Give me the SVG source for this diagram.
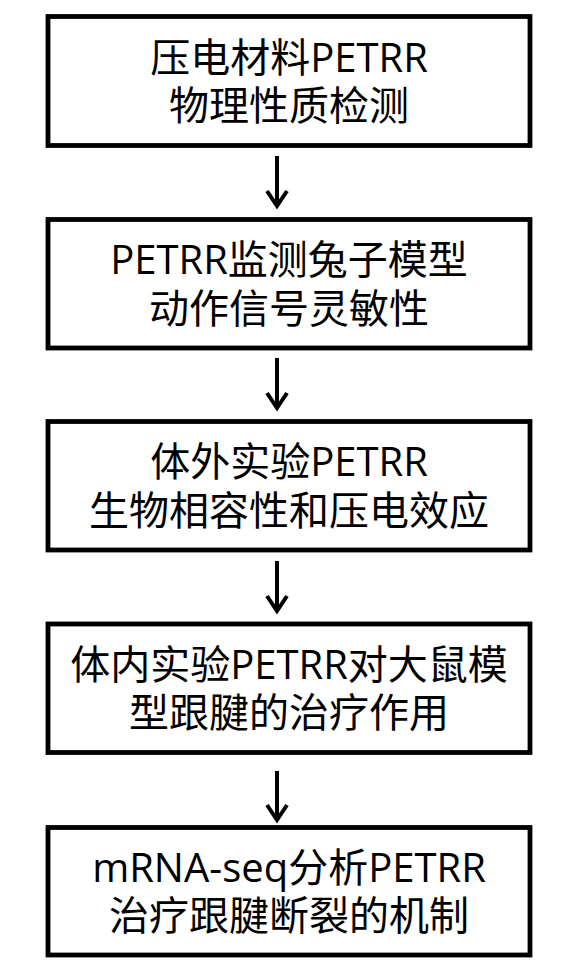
<svg xmlns="http://www.w3.org/2000/svg" width="561" height="972" viewBox="0 0 561 972">
<style>
.box{fill:#fff;stroke:#000;stroke-width:4.8}
.t{font-family:"Open Sans","Noto Sans CJK SC",sans-serif;font-size:40px;fill:#000;text-anchor:middle}
.ln{fill:none;stroke:#000;stroke-width:4}
</style>
<rect width="561" height="972" fill="#fff"/>
<g id="connectors">
<line class="ln" x1="277" y1="156" x2="277" y2="205"/><polyline class="ln" points="267,191 277,206 287,191"/>
<line class="ln" x1="277" y1="358" x2="277" y2="407"/><polyline class="ln" points="267,393 277,408 287,393"/>
<line class="ln" x1="277" y1="561" x2="277" y2="610"/><polyline class="ln" points="267,596 277,611 287,596"/>
<line class="ln" x1="277" y1="771" x2="277" y2="819"/><polyline class="ln" points="267,805 277,820 287,805"/>
</g>
<g id="n1"><rect class="box" x="48" y="16.5" width="482" height="129"/>
<text class="t" x="289" y="71.5">压电材料PETRR<tspan x="289" dy="48.5">物理性质检测</tspan></text></g>
<g id="n2"><rect class="box" x="48" y="219.5" width="482" height="128.5"/>
<text class="t" x="289" y="274">PETRR监测兔子模型<tspan x="289" dy="48.5">动作信号灵敏性</tspan></text></g>
<g id="n3"><rect class="box" x="48" y="421.5" width="482" height="128.5"/>
<text class="t" x="289" y="476">体外实验PETRR<tspan x="289" dy="48.5">生物相容性和压电效应</tspan></text></g>
<g id="n4"><rect class="box" x="48" y="624" width="482" height="128.5"/>
<text class="t" x="289" y="678.5">体内实验PETRR对大鼠模<tspan x="289" dy="48.5">型跟腱的治疗作用</tspan></text></g>
<g id="n5"><rect class="box" x="48" y="827.5" width="482" height="127.5"/>
<text class="t" x="289" y="881.5">mRNA-seq分析PETRR<tspan x="289" dy="48.5">治疗跟腱断裂的机制</tspan></text></g>
</svg>
